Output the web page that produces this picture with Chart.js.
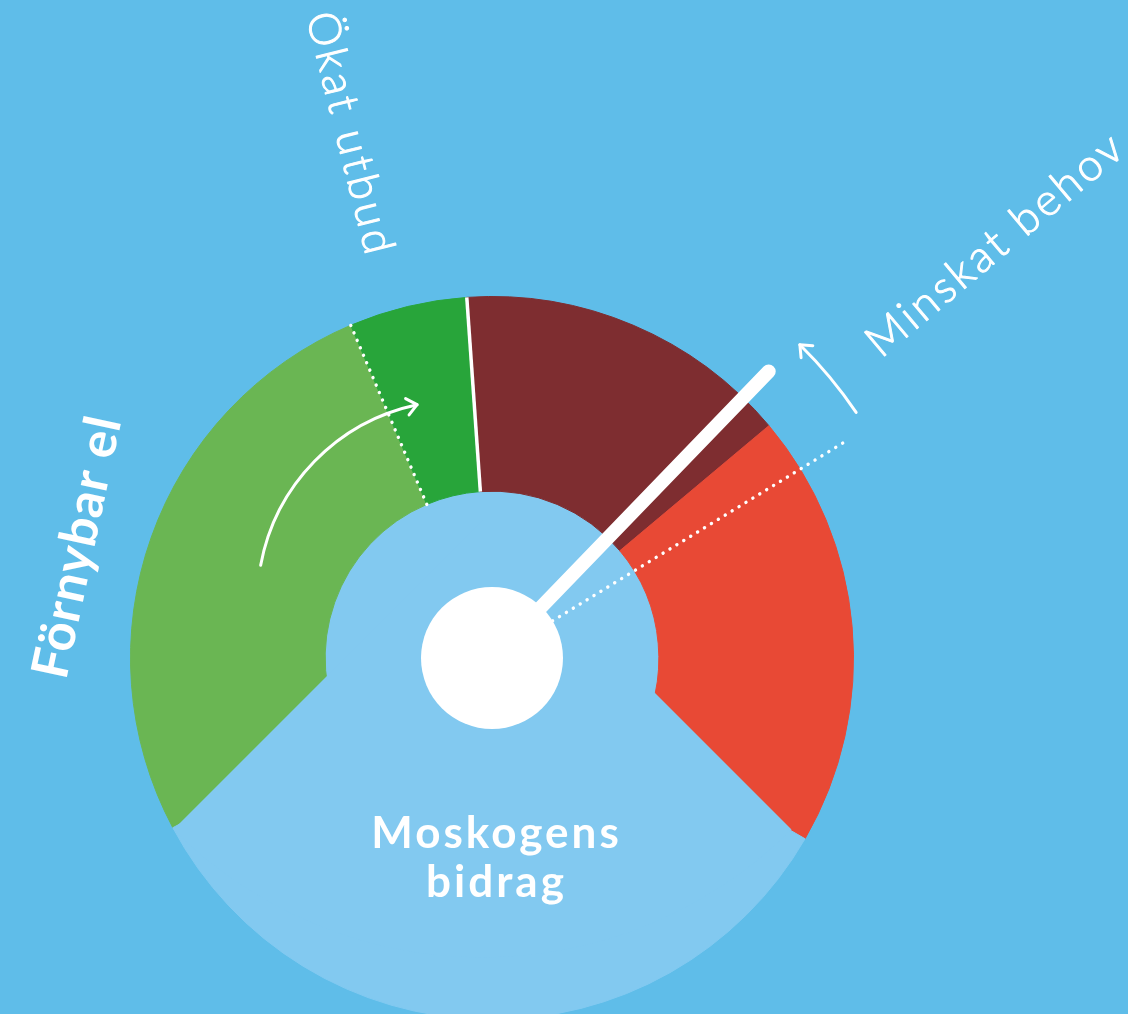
<!DOCTYPE html>
<html><head><meta charset="utf-8">
<script src="https://cdn.jsdelivr.net/npm/chart.js@4.4.0/dist/chart.umd.min.js"></script>
<style>
html,body{margin:0;padding:0;background:#5FBDE9;overflow:hidden;width:1128px;height:1014px;}
.layer{position:absolute;left:0;top:0;width:1128px;height:1030px;}
</style></head><body>
<canvas id="gauge" class="layer" width="1128" height="1030"></canvas>
<canvas id="wedge" class="layer" width="1128" height="1030"></canvas>
<script>
// ---- data (degrees of the gauge ring, clockwise from the start angle) ----
const categories = ['Förnybar el', 'Ökat utbud', 'Kvarvarande behov', 'Minskat behov', 'Moskogens bidrag'];
const ringValues = [95, 19, 54, 70, 122];
const ringColors = ['#6AB653', '#28A53A', '#7E2D30', '#E84935', '#82C9F0'];
const innerValues = [360];
const innerColors = ['#82C9F0'];
const wedgeLabels = ['Moskogens bidrag', ''];
const wedgeValues = [90, 270];
const wedgeColors = ['#82C9F0', 'rgba(0,0,0,0)'];
const gaugeStart = 242;      // degrees from top, clockwise
const wedgeStart = 135;
const needleAngle = 44;      // degrees from top
const dottedAngle = 58.5;    // degrees from top
const labelTexts = { okat: 'Ökat utbud', minskat: 'Minskat behov', fornybar: 'Förnybar el', mosk1: 'Moskogens', mosk2: 'bidrag' };

const toCanvas = d => (d - 90) * Math.PI / 180;
let gaugeChart = null;

const overlay = {
  id: 'overlay',
  afterDatasetsDraw(chart) {
    const ctx = chart.ctx;
    const outer = gaugeChart.getDatasetMeta(0).data;
    const inner = gaugeChart.getDatasetMeta(1).data[0];
    const cx = outer[0].x, cy = outer[0].y;
    const R = outer[0].outerRadius, r1 = outer[0].innerRadius, r0 = inner.innerRadius;
    ctx.save();
    ctx.strokeStyle = '#fff'; ctx.fillStyle = '#fff';
    const ray = (a, ra, rb) => { ctx.beginPath(); ctx.moveTo(cx + ra * Math.cos(a), cy + ra * Math.sin(a)); ctx.lineTo(cx + rb * Math.cos(a), cy + rb * Math.sin(a)); ctx.stroke(); };
    // solid white boundary between Ökat utbud and next slice
    ctx.lineWidth = 3.5; ctx.lineCap = 'butt';
    ray(outer[1].endAngle, r1, R);
    // dotted lines
    ctx.lineWidth = 3.4; ctx.lineCap = 'round'; ctx.setLineDash([0.1, 8]);
    ray(outer[0].endAngle, r1, R);
    ray(toCanvas(dottedAngle), r0, R * 1.145);
    ctx.setLineDash([]);
    // needle
    ctx.lineWidth = 14; ctx.lineCap = 'round';
    ray(toCanvas(needleAngle), 0, R * 1.102);
    // centre
    ctx.beginPath(); ctx.arc(cx, cy, r0, 0, Math.PI * 2); ctx.fill();
    // arrows
    const arrow = (ax, ay, rad, a0, a1, ccw) => {
      ctx.lineWidth = 3; ctx.lineCap = 'round'; ctx.lineJoin = 'round';
      ctx.beginPath(); ctx.arc(ax, ay, rad, a0, a1, ccw); ctx.stroke();
      const tx = ax + rad * Math.cos(a1), ty = ay + rad * Math.sin(a1);
      let dx = -Math.sin(a1), dy = Math.cos(a1);
      if (ccw) { dx = -dx; dy = -dy; }
      const L = 13, sp = 0.7;
      ctx.beginPath();
      ctx.moveTo(tx - L * (dx * Math.cos(sp) - dy * Math.sin(sp)), ty - L * (dy * Math.cos(sp) + dx * Math.sin(sp)));
      ctx.lineTo(tx, ty);
      ctx.lineTo(tx - L * (dx * Math.cos(-sp) - dy * Math.sin(-sp)), ty - L * (dy * Math.cos(-sp) + dx * Math.sin(-sp)));
      ctx.stroke();
    };
    arrow(cx - 33, cy - 56, R * 0.558, -169.5 * Math.PI / 180, -102 * Math.PI / 180, false);
    arrow(cx, cy, R * 1.215, toCanvas(56), toCanvas(44.5), true);
    // labels
    const rotText = (t, x, y, deg, font, spacing, stroke) => {
      ctx.save(); ctx.translate(x, y); ctx.rotate(deg * Math.PI / 180);
      ctx.font = font; ctx.letterSpacing = spacing; ctx.textAlign = 'left'; ctx.textBaseline = 'alphabetic';
      ctx.fillText(t, 0, 0);
      if (stroke) { ctx.lineWidth = stroke; ctx.strokeText(t, 0, 0); }
      ctx.restore();
    };
    rotText(labelTexts.okat, cx - 186, cy - 642, 76, '300 44px Lato', '3.6px', 1);
    rotText(labelTexts.minskat, cx + 389, cy - 299, -40, '300 44px Lato', '3.4px', 1);
    rotText(labelTexts.fornybar, cx - 426, cy + 23, -78, 'bold 51px Lato', '1px', 0);
    ctx.textAlign = 'center'; ctx.textBaseline = 'alphabetic';
    ctx.font = 'bold 44px Lato'; ctx.letterSpacing = '3px';
    ctx.fillText(labelTexts.mosk1, cx + 4.5, cy + 190);
    ctx.fillText(labelTexts.mosk2, cx + 4.5, cy + 239);
    ctx.restore();
  }
};

gaugeChart = new Chart(document.getElementById('gauge'), {
  type: 'doughnut',
  data: {
    labels: categories,
    datasets: [
      { data: ringValues, backgroundColor: ringColors, borderColor: ringColors, borderWidth: 1, weight: 195 },
      { data: innerValues, backgroundColor: innerColors, borderColor: innerColors, borderWidth: 1, weight: 96 }
    ]
  },
  options: {
    responsive: false, animation: false, events: [],
    rotation: gaugeStart, cutout: 71,
    layout: { padding: { left: 130, right: 274, top: 296, bottom: 10 } },
    plugins: { legend: { display: false }, tooltip: { enabled: false } }
  }
});

new Chart(document.getElementById('wedge'), {
  type: 'pie',
  data: {
    labels: wedgeLabels,
    datasets: [{ data: wedgeValues, backgroundColor: wedgeColors, borderWidth: 0 }]
  },
  options: {
    responsive: false, animation: false, events: [],
    rotation: wedgeStart,
    layout: { padding: { left: 45.5, right: 208.5, top: 83.5, bottom: 72.5 } },
    plugins: { legend: { display: false }, tooltip: { enabled: false } }
  },
  plugins: [overlay]
});
</script>
</body></html>
